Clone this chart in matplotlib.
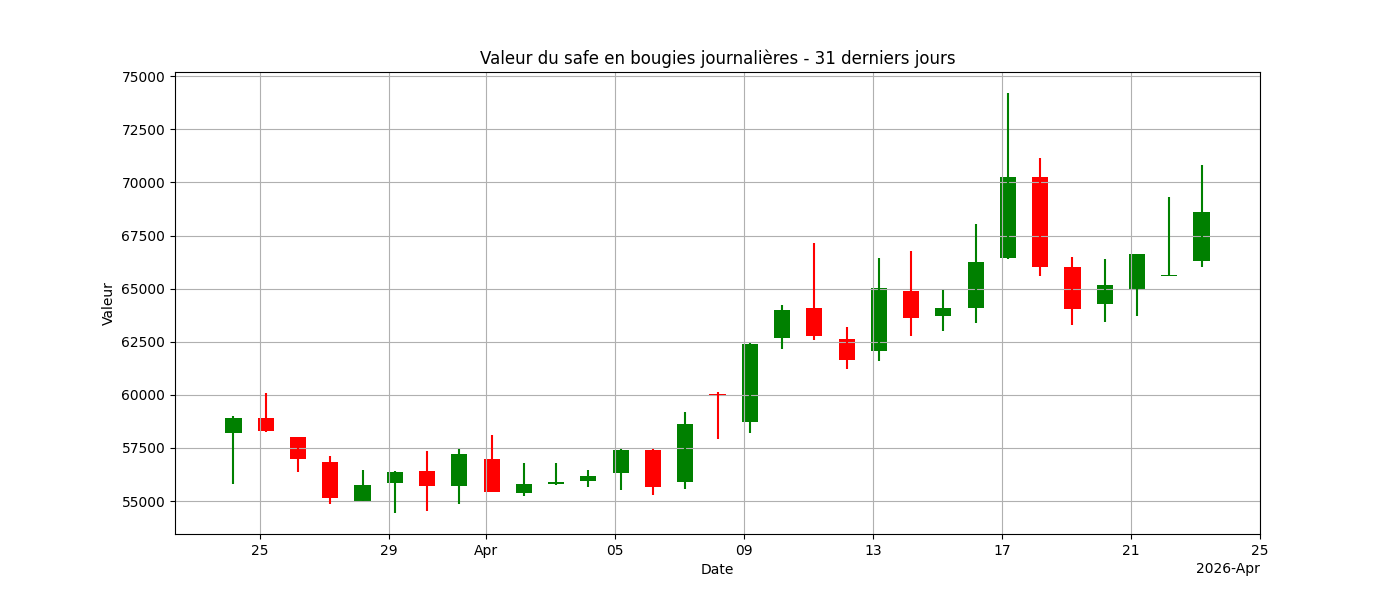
import matplotlib; matplotlib.use('Agg')
import matplotlib.pyplot as plt
import matplotlib.dates as mdates
import pandas as pd

dates = pd.date_range("2026-03-24 04:30", periods=31, freq="D")
opens  = [58200, 58900, 58000, 56850, 55000, 55850, 56400, 55700, 57000, 55400,
          55800, 55950, 56300, 57400, 55900, 60050, 58700, 62700, 64100, 62650,
          62050, 64900, 63700, 64100, 66450, 70250, 66000, 64300, 64950, 65600, 66300]
closes = [58900, 58300, 57000, 55150, 55750, 56350, 55700, 57200, 55450, 55800,
          55900, 56200, 57400, 55650, 58650, 60000, 62400, 64000, 62750, 61650,
          65050, 63600, 64100, 66250, 70250, 66000, 64050, 65150, 66650, 65650, 68600]
highs  = [59000, 60100, 58000, 57100, 56450, 56400, 57350, 57450, 58100, 56800,
          56800, 56450, 57450, 57450, 59200, 60150, 62450, 64250, 67150, 63200,
          66450, 66750, 64950, 68050, 74200, 71150, 66500, 66400, 66650, 69300, 70800]
lows   = [55800, 58250, 56350, 54850, 55000, 54450, 54550, 54850, 55450, 55250,
          55750, 55650, 55500, 55300, 55550, 57900, 58200, 62150, 62600, 61200,
          61600, 62750, 63000, 63400, 66400, 65600, 63300, 63450, 63700, 65600, 66000]

fig, ax = plt.subplots(figsize=(14, 6), dpi=100)
x = mdates.date2num(dates)
for xi, o, c, h, l in zip(x, opens, closes, highs, lows):
    col = 'green' if c >= o else 'red'
    ax.vlines(xi, l, h, color=col, linewidth=1.5)
    ax.bar(xi, abs(c - o), bottom=min(o, c), width=0.5, color=col)

loc = mdates.AutoDateLocator()
ax.xaxis.set_major_locator(loc)
ax.xaxis.set_major_formatter(mdates.ConciseDateFormatter(loc))
ax.set_xlim(mdates.date2num(pd.Timestamp("2026-03-22 09:00")), mdates.date2num(pd.Timestamp("2026-04-25")))
ax.set_ylim(53450, 75200)
ax.grid(True)
ax.set_title("Valeur du safe en bougies journalières - 31 derniers jours")
ax.set_xlabel("Date")
ax.set_ylabel("Valeur")
plt.savefig("out.png")
